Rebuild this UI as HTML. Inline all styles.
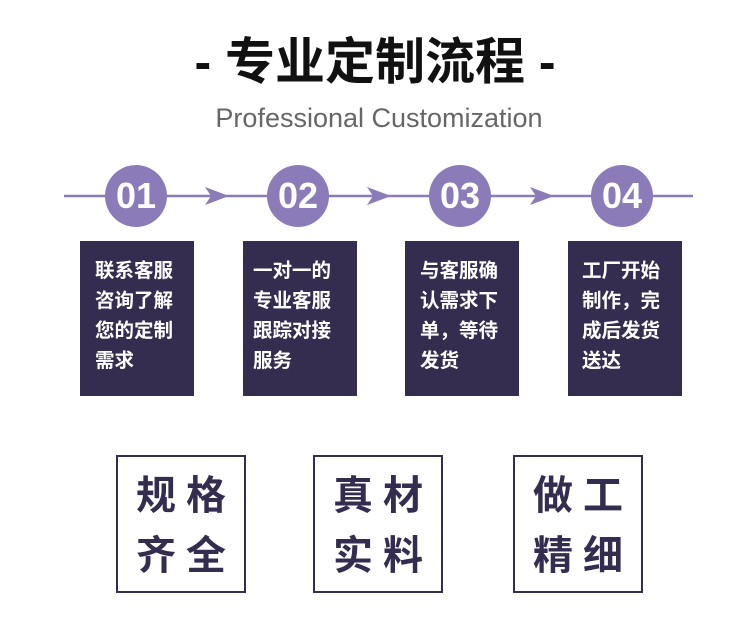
<!DOCTYPE html>
<html><head><meta charset="utf-8"><style>
body{margin:0;width:750px;height:619px;background:#fff;position:relative;overflow:hidden;font-family:"Liberation Sans","Noto Sans CJK SC",sans-serif}
.a{position:absolute}
.c{position:absolute;width:62px;height:62px;border-radius:50%;background:#8b7bb8;color:#fff;font-size:36px;font-weight:bold;text-align:center;line-height:62px;top:165px}
.b{position:absolute;top:241px;width:114px;height:155px;background:#352d50;color:#fff;font-size:19.5px;line-height:30px;box-sizing:border-box;padding-top:15px;font-weight:bold}
.s{position:absolute;top:455px;width:130px;height:138px;border:2.5px solid #352d50;color:#352d50;font-size:40px;font-weight:bold;line-height:60px;text-align:center;box-sizing:border-box;padding-top:9px;padding-left:10px;letter-spacing:10px}
</style></head><body>
<div class="a" style="left:0;width:750px;top:33px;text-align:center;font-size:50px;line-height:58px;font-weight:bold;color:#111">- 专业定制流程 -</div>
<div class="a" style="left:0;width:758px;top:101px;text-align:center;font-size:27px;line-height:34px;color:#666">Professional Customization</div>
<svg class="a" style="left:0;top:0" width="750" height="240">
<line x1="64" y1="196" x2="693" y2="196" stroke="#8b7bb8" stroke-width="2.5"/>
<polygon points="205,187 229,196 205,205 211,196" fill="#8b7bb8"/>
<polygon points="367,187 391,196 367,205 373,196" fill="#8b7bb8"/>
<polygon points="530,187 554,196 530,205 536,196" fill="#8b7bb8"/>
</svg>
<div class="c" style="left:105px">01</div>
<div class="c" style="left:267px">02</div>
<div class="c" style="left:429px">03</div>
<div class="c" style="left:591px">04</div>
<div class="b" style="left:80px;padding-left:15px">联系客服<br>咨询了解<br>您的定制<br>需求</div>
<div class="b" style="left:243px;padding-left:10px">一对一的<br>专业客服<br>跟踪对接<br>服务</div>
<div class="b" style="left:405px;padding-left:15px">与客服确<br>认需求下<br>单，等待<br>发货</div>
<div class="b" style="left:568px;padding-left:14px">工厂开始<br>制作，完<br>成后发货<br>送达</div>
<div class="s" style="left:116px">规格<br>齐全</div>
<div class="s" style="left:313px">真材<br>实料</div>
<div class="s" style="left:513px">做工<br>精细</div>
</body></html>
